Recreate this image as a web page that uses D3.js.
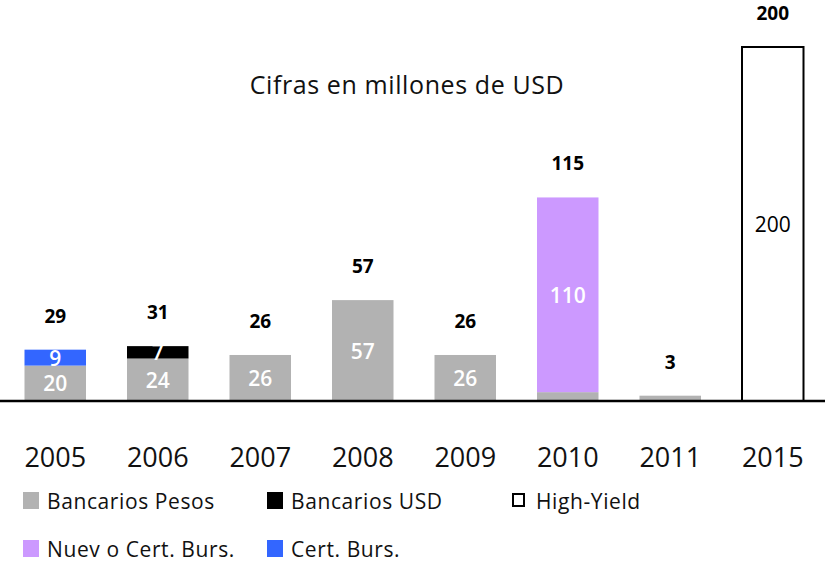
<!DOCTYPE html>
<html>
<head>
<meta charset="utf-8">
<script src="https://cdn.jsdelivr.net/npm/d3@7"></script>
<style>
  body { margin: 0; background: #fff; }
  text { font-family: "Open Sans", sans-serif; }
</style>
</head>
<body>
<div id="chart"></div>
<script>
var years = ['2005', '2006', '2007', '2008', '2009', '2010', '2011', '2015'];
var seriesNames = ['Bancarios Pesos', 'Bancarios USD', 'High-Yield', 'Nuev o Cert. Burs.', 'Cert. Burs.'];
var bancariosPesos = [20, 24, 26, 57, 26, 5, 3, 0];
var bancariosUSD = [0, 7, 0, 0, 0, 0, 0, 0];
var highYield = [0, 0, 0, 0, 0, 0, 0, 200];
var nuevoCertBurs = [0, 0, 0, 0, 0, 110, 0, 0];
var certBurs = [9, 0, 0, 0, 0, 0, 0, 0];
var colors = ['#b2b2b2', '#000000', '#ffffff', '#cc99ff', '#3366ff'];

var width = 825, height = 562, base = 401;

// stacking order bottom -> top
var stackOrder = [0, 1, 4, 3, 2];
var values = [bancariosPesos, bancariosUSD, highYield, nuevoCertBurs, certBurs];

var svg = d3.select("#chart").append("svg")
    .attr("width", width)
    .attr("height", height);

var xScale = d3.scaleBand()
    .domain(years)
    .range([4, 824])
    .paddingInner(0.4)
    .paddingOuter(0.2);

var yScale = d3.scaleLinear()
    .domain([0, 200])
    .range([base, 47]);

var totals = years.map((y, i) => d3.sum(values, v => v[i]));

// bars
years.forEach(function(yr, i) {
    var acc = 0;
    var nSeg = stackOrder.filter(s => values[s][i] > 0).length;
    stackOrder.forEach(function(s) {
        var v = values[s][i];
        if (!v) return;
        var y0 = yScale(acc), y1 = yScale(acc + v);
        acc += v;
        svg.append("rect")
            .attr("x", xScale(yr))
            .attr("y", y1)
            .attr("width", xScale.bandwidth())
            .attr("height", y0 - y1)
            .attr("fill", colors[s])
            .attr("stroke", s == 2 ? "#000" : "none")
            .attr("stroke-width", 2);

        var h = y0 - y1;
        if (nSeg == 1 && h < 20) return;
        var cy = (y0 + y1) / 2;
        if (h < 10) cy = y1 - 17;
        svg.append("text")
            .attr("x", xScale(yr) + xScale.bandwidth() / 2)
            .attr("y", cy + 8)
            .attr("text-anchor", "middle")
            .attr("font-size", "21px")
            .attr("font-weight", s == 2 ? 400 : 600)
            .attr("fill", s == 2 ? "#000" : "#fff")
            .text(v);
    });
});

// totals
svg.selectAll(".total")
    .data(years)
    .enter().append("text")
    .attr("class", "total")
    .attr("x", d => xScale(d) + xScale.bandwidth() / 2)
    .attr("y", (d, i) => yScale(totals[i]) - 27)
    .attr("text-anchor", "middle")
    .attr("font-size", "19px")
    .attr("font-weight", "bold")
    .attr("fill", "#000")
    .text((d, i) => totals[i]);

// axis
var axis = svg.append("g")
    .attr("transform", `translate(0,${base})`)
    .call(d3.axisBottom(xScale).tickSize(0).tickPadding(0));
axis.select(".domain").attr("stroke", "#000").attr("stroke-width", 2.5)
    .attr("d", "M0,0H825");
axis.selectAll("text")
    .attr("y", 66)
    .attr("dy", null)
    .style("font-family", "'Open Sans', sans-serif")
    .style("font-size", "27px")
    .style("fill", "#111");

// title
svg.append("text")
    .attr("x", 407)
    .attr("y", 94)
    .attr("text-anchor", "middle")
    .attr("font-size", "25px")
    .attr("letter-spacing", "0.6px")
    .attr("fill", "#111")
    .text("Cifras en millones de USD");

// legend
var legendPos = [[23, 492], [267, 492], [513, 492], [23, 540], [267, 540]];
seriesNames.forEach(function(name, i) {
    var g = svg.append("g").attr("transform", `translate(${legendPos[i][0]},${legendPos[i][1]})`);
    var hy = i == 2;
    g.append("rect")
        .attr("x", hy ? 0 : 0).attr("y", hy ? 2 : 0)
        .attr("width", hy ? 11 : 16).attr("height", hy ? 12 : 17)
        .attr("fill", colors[i])
        .attr("stroke", hy ? "#000" : "none")
        .attr("stroke-width", 2);
    g.append("text")
        .attr("x", hy ? 23 : 24)
        .attr("y", 17)
        .attr("font-size", "21px")
        .attr("letter-spacing", "0.6px")
        .attr("fill", "#111")
        .text(name);
});
</script>
</body>
</html>
